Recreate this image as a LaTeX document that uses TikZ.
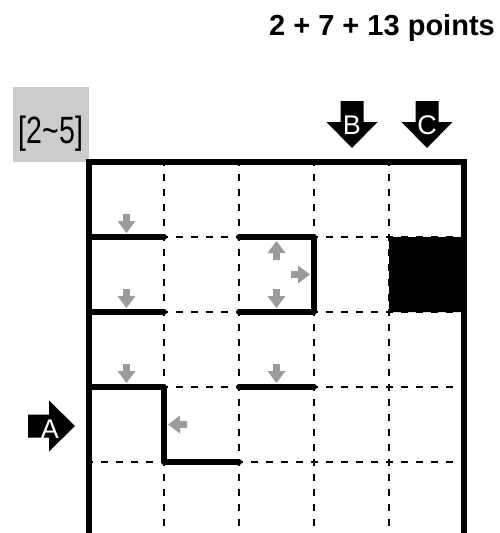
\documentclass[tikz,border=0pt]{standalone}
\usepackage{fontspec}
\setmainfont{Liberation Sans}
\usepackage{graphicx}
\definecolor{hintgray}{HTML}{9B9B9B}
\definecolor{rangegray}{HTML}{CCCCCC}
\tikzstyle{grid line} = [line width=2.4pt, dash pattern=on 7pt off 8pt, dash phase=3.5pt]
\tikzstyle{wall} = [line width=6pt, line cap=round, line join=round]
\tikzstyle{border} = [line width=6.5pt, line join=miter]
\tikzstyle{hint} = [fill=hintgray]
\tikzstyle{entry} = [fill=black]
\tikzstyle{letter} = [text=white, font=\fontsize{27}{27}\selectfont, inner sep=0pt, anchor=base]

% small grey arrow, tip at (#1,#2), pointing at angle #3
\newcommand{\hintarrow}[3]{%
  \fill[hint, shift={(#1,#2)}, rotate=#3] (0,0) -- (-12,9) -- (-12,3.3) -- (-19,3.3) -- (-19,-3.3) -- (-12,-3.3) -- (-12,-9) -- cycle;}
% big black entry arrow, tip at (#1,#2), pointing at angle #3
\newcommand{\entryarrow}[3]{%
  \fill[entry, shift={(#1,#2)}, rotate=#3] (0,0) -- (-26,25.5) -- (-26,11.5) -- (-47,11.5) -- (-47,-11.5) -- (-26,-11.5) -- (-26,-25.5) -- cycle;}

\begin{document}
\begin{tikzpicture}[x=1pt, y=-1pt]
\useasboundingbox (0,0) rectangle (499,533);

% Header
\node[anchor=base east, inner sep=0pt, font=\fontsize{29}{31}\selectfont\bfseries] (title) at (495,35) {2 + 7 + 13 points};

% Range box
\fill[rangegray] (13,87) rectangle (89,162);
\node[anchor=base, inner sep=0pt] (range) at (51,143) {\scalebox{0.75}[1]{\fontsize{38}{38}\selectfont [2\textasciitilde5]}};

% Grid
\foreach \gx in {164,239,314,389}
  \draw[grid line] (\gx,162) -- (\gx,533);
\foreach \gy in {237,312,387,462}
  \draw[grid line] (89,\gy) -- (464,\gy);

% Blocked cell
\fill[rounded corners=1.5pt] (389,237) rectangle (464,312);

% Walls
\draw[wall] (89,237) -- (164,237);
\draw[wall] (89,312) -- (164,312);
\draw[wall] (239,237) -- (314,237) -- (314,312) -- (239,312);
\draw[wall] (89,387) -- (164,387) -- (164,462) -- (239,462);
\draw[wall] (239,387) -- (314,387);

% Border
\draw[border] (89,533) -- (89,162) -- (464,162) -- (464,533);

% Hints
\hintarrow{126.5}{233}{-90}
\hintarrow{126.5}{308}{-90}
\hintarrow{126.5}{383}{-90}
\hintarrow{276.5}{383}{-90}
\hintarrow{276.5}{308}{-90}
\hintarrow{276.5}{241}{90}
\hintarrow{310}{274.5}{0}
\hintarrow{168}{424.5}{180}

% Entries
\entryarrow{352}{148}{-90}
\node[letter] (B) at (352,134) {B};
\entryarrow{427}{148}{-90}
\node[letter] (C) at (427,134) {C};
\entryarrow{75}{426}{0}
\node[letter] (A) at (50,438) {A};
\end{tikzpicture}
\end{document}
